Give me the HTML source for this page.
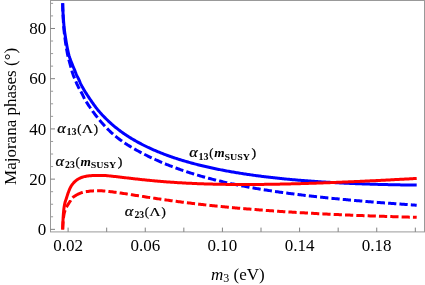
<!DOCTYPE html>
<html><head><meta charset="utf-8"><title>Majorana phases</title>
<style>
html,body{margin:0;padding:0;background:#fff;}
body{width:425px;height:285px;overflow:hidden;}
svg{display:block;will-change:transform;mix-blend-mode:multiply;font-family:"Liberation Serif",serif;}
.ax text{font-size:17px;fill:#000;}
</style></head><body>
<svg width="425" height="285" viewBox="0 0 425 285">
<rect x="0" y="0" width="425" height="285" fill="#fff"/>
<g fill="none" stroke-width="3" stroke-linejoin="round">
<path d="M62.70 3.30 L62.71 4.46 L62.72 5.61 L62.74 6.77 L62.77 7.93 L62.80 9.08 L62.83 10.24 L62.88 11.39 L62.92 12.55 L62.97 13.70 L63.03 14.85 L63.08 16.01 L63.14 17.16 L63.20 18.31 L63.27 19.47 L63.34 20.62 L63.40 21.77 L63.47 22.92 L63.54 24.08 L63.61 25.23 L63.69 26.38 L63.78 27.53 L63.88 28.68 L63.99 29.83 L64.11 30.98 L64.23 32.13 L64.36 33.28 L64.49 34.43 L64.63 35.57 L64.78 36.72 L64.92 37.87 L65.07 39.01 L65.22 40.16 L65.37 41.30 L65.53 42.44 L65.70 43.59 L65.87 44.73 L66.04 45.87 L66.23 47.02 L66.42 48.16 L66.61 49.30 L66.82 50.44 L67.03 51.57 L67.24 52.71 L67.46 53.84 L67.69 54.97 L67.94 56.09 L68.20 57.22 L68.48 58.34 L68.77 59.46 L69.07 60.57 L69.38 61.69 L69.69 62.80 L70.00 63.91 L70.31 65.03 L70.61 66.14 L70.91 67.26 L71.21 68.38 L71.52 69.49 L71.83 70.61 L72.15 71.72 L72.48 72.82 L72.83 73.92 L73.20 75.01 L73.62 76.09 L74.07 77.15 L74.52 78.22 L74.97 79.28 L75.40 80.35 L75.84 81.42 L76.29 82.49 L76.74 83.55 L77.22 84.60 L77.71 85.64 L78.22 86.68 L78.76 87.70 L79.31 88.72 L79.86 89.73 L80.42 90.74 L80.98 91.75 L81.54 92.77 L82.08 93.79 L82.61 94.82 L83.11 95.86 L83.59 96.91 L84.08 97.96 L84.59 98.99 L85.16 99.99 L85.76 100.98 L86.38 101.96 L87.01 102.93 L87.64 103.89 L88.28 104.85 L88.92 105.82 L89.57 106.77 L90.22 107.73 L90.88 108.68 L91.55 109.63 L92.22 110.58 L92.89 111.52 L93.58 112.45 L94.26 113.38 L94.96 114.31 L95.66 115.23 L96.36 116.14 L97.08 117.05 L97.79 117.95 L98.52 118.84 L99.25 119.73 L99.98 120.61 L100.73 121.49 L101.48 122.37 L102.25 123.24 L103.01 124.10 L103.79 124.96 L104.57 125.82 L105.36 126.67 L106.16 127.51 L106.97 128.34 L107.78 129.17 L108.59 129.99 L109.42 130.80 L110.25 131.60 L111.08 132.40 L111.93 133.18 L112.78 133.95 L113.65 134.71 L114.54 135.45 L115.43 136.18 L116.34 136.90 L117.25 137.62 L118.16 138.32 L119.08 139.02 L120.01 139.71 L120.94 140.39 L121.88 141.06 L122.83 141.73 L123.78 142.38 L124.74 143.03 L125.70 143.67 L126.67 144.30 L127.64 144.92 L128.62 145.53 L129.61 146.14 L130.59 146.74 L131.58 147.33 L132.58 147.92 L133.58 148.49 L134.58 149.07 L135.59 149.63 L136.60 150.19 L137.61 150.75 L138.63 151.30 L139.65 151.84 L140.67 152.38 L141.69 152.92 L142.72 153.45 L143.75 153.98 L144.78 154.50 L145.81 155.02 L146.84 155.53 L147.88 156.05 L148.91 156.55 L149.95 157.06 L151.00 157.55 L152.04 158.05 L153.09 158.54 L154.13 159.03 L155.18 159.51 L156.23 159.99 L157.29 160.46 L158.34 160.93 L159.40 161.39 L160.46 161.85 L161.52 162.31 L162.58 162.76 L163.65 163.21 L164.72 163.65 L165.78 164.09 L166.86 164.52 L167.93 164.95 L169.00 165.38 L170.08 165.80 L171.15 166.22 L172.23 166.63 L173.31 167.04 L174.39 167.45 L175.48 167.85 L176.56 168.25 L177.65 168.64 L178.73 169.03 L179.82 169.42 L180.91 169.80 L182.00 170.18 L183.10 170.55 L184.19 170.93 L185.28 171.29 L186.38 171.66 L187.48 172.02 L188.58 172.37 L189.68 172.73 L190.78 173.08 L191.88 173.42 L192.98 173.77 L194.09 174.11 L195.19 174.44 L196.30 174.77 L197.40 175.10 L198.51 175.43 L199.62 175.75 L200.73 176.07 L201.84 176.39 L202.95 176.70 L204.07 177.01 L205.18 177.32 L206.29 177.63 L207.41 177.93 L208.52 178.23 L209.64 178.52 L210.76 178.81 L211.88 179.10 L213.00 179.39 L214.12 179.67 L215.24 179.95 L216.36 180.23 L217.48 180.51 L218.60 180.78 L219.72 181.05 L220.85 181.32 L221.97 181.58 L223.10 181.84 L224.22 182.10 L225.35 182.36 L226.48 182.62 L227.60 182.87 L228.73 183.12 L229.86 183.36 L230.99 183.61 L232.12 183.85 L233.25 184.09 L234.38 184.33 L235.51 184.56 L236.64 184.79 L237.77 185.02 L238.90 185.25 L240.04 185.48 L241.17 185.70 L242.30 185.92 L243.44 186.14 L244.57 186.36 L245.71 186.57 L246.84 186.79 L247.98 187.00 L249.11 187.20 L250.25 187.41 L251.39 187.61 L252.53 187.82 L253.66 188.02 L254.80 188.22 L255.94 188.41 L257.08 188.61 L258.22 188.80 L259.36 188.99 L260.49 189.18 L261.63 189.37 L262.77 189.55 L263.91 189.74 L265.06 189.92 L266.20 190.10 L267.34 190.28 L268.48 190.45 L269.62 190.63 L270.76 190.80 L271.90 190.98 L273.05 191.15 L274.19 191.32 L275.33 191.48 L276.47 191.65 L277.62 191.82 L278.76 191.98 L279.91 192.14 L281.05 192.30 L282.19 192.46 L283.34 192.62 L284.48 192.78 L285.63 192.93 L286.77 193.09 L287.92 193.24 L289.06 193.39 L290.21 193.54 L291.35 193.69 L292.50 193.84 L293.64 193.99 L294.79 194.14 L295.93 194.28 L297.08 194.42 L298.23 194.57 L299.37 194.71 L300.52 194.85 L301.67 194.99 L302.81 195.13 L303.96 195.26 L305.11 195.40 L306.25 195.53 L307.40 195.67 L308.55 195.80 L309.70 195.93 L310.84 196.06 L311.99 196.19 L313.14 196.32 L314.29 196.45 L315.43 196.58 L316.58 196.71 L317.73 196.83 L318.88 196.96 L320.03 197.08 L321.18 197.20 L322.32 197.33 L323.47 197.45 L324.62 197.57 L325.77 197.69 L326.92 197.81 L328.07 197.93 L329.22 198.04 L330.37 198.16 L331.52 198.28 L332.66 198.39 L333.81 198.51 L334.96 198.62 L336.11 198.73 L337.26 198.84 L338.41 198.96 L339.56 199.07 L340.71 199.18 L341.86 199.29 L343.01 199.39 L344.16 199.50 L345.31 199.61 L346.46 199.72 L347.61 199.82 L348.76 199.93 L349.91 200.03 L351.06 200.14 L352.21 200.24 L353.36 200.34 L354.51 200.45 L355.66 200.55 L356.81 200.65 L357.97 200.75 L359.12 200.85 L360.27 200.95 L361.42 201.05 L362.57 201.15 L363.72 201.25 L364.87 201.34 L366.02 201.44 L367.17 201.54 L368.32 201.63 L369.47 201.73 L370.63 201.82 L371.78 201.92 L372.93 202.01 L374.08 202.10 L375.23 202.19 L376.38 202.29 L377.53 202.38 L378.69 202.47 L379.84 202.56 L380.99 202.65 L382.14 202.74 L383.29 202.83 L384.44 202.92 L385.59 203.01 L386.75 203.10 L387.90 203.18 L389.05 203.27 L390.20 203.36 L391.35 203.44 L392.50 203.53 L393.66 203.62 L394.81 203.70 L395.96 203.79 L397.11 203.87 L398.26 203.95 L399.42 204.04 L400.57 204.12 L401.72 204.20 L402.87 204.29 L404.02 204.37 L405.18 204.45 L406.33 204.53 L407.48 204.61 L408.63 204.69 L409.79 204.77 L410.94 204.85 L412.09 204.93 L413.24 205.01 L414.40 205.09 L415.55 205.17 L416.70 205.25" stroke="#0000ff" stroke-dasharray="8.25 3.125"/>
<path d="M62.70 3.30 L62.71 4.43 L62.74 5.56 L62.77 6.70 L62.80 7.83 L62.84 8.96 L62.89 10.09 L62.95 11.22 L63.01 12.35 L63.07 13.47 L63.14 14.60 L63.21 15.73 L63.28 16.86 L63.36 17.98 L63.44 19.11 L63.53 20.24 L63.61 21.36 L63.70 22.49 L63.79 23.61 L63.88 24.73 L63.97 25.86 L64.08 26.98 L64.20 28.10 L64.32 29.23 L64.46 30.35 L64.61 31.47 L64.76 32.59 L64.92 33.71 L65.09 34.83 L65.26 35.95 L65.43 37.07 L65.61 38.18 L65.79 39.30 L65.97 40.41 L66.15 41.53 L66.33 42.64 L66.52 43.76 L66.72 44.88 L66.92 45.99 L67.13 47.10 L67.35 48.22 L67.58 49.33 L67.81 50.43 L68.05 51.54 L68.31 52.63 L68.57 53.73 L68.85 54.81 L69.15 55.90 L69.48 56.97 L69.83 58.04 L70.21 59.11 L70.60 60.17 L71.01 61.23 L71.42 62.29 L71.84 63.34 L72.26 64.39 L72.68 65.44 L73.11 66.49 L73.55 67.53 L74.00 68.56 L74.44 69.60 L74.86 70.65 L75.27 71.71 L75.68 72.76 L76.09 73.81 L76.53 74.85 L77.01 75.87 L77.53 76.88 L78.05 77.88 L78.54 78.90 L79.00 79.93 L79.45 80.97 L79.91 82.01 L80.36 83.04 L80.84 84.07 L81.34 85.07 L81.86 86.07 L82.40 87.06 L82.95 88.04 L83.52 89.02 L84.09 89.99 L84.68 90.96 L85.27 91.92 L85.88 92.88 L86.49 93.84 L87.10 94.79 L87.73 95.74 L88.35 96.68 L88.98 97.62 L89.62 98.56 L90.25 99.49 L90.88 100.42 L91.52 101.35 L92.17 102.28 L92.81 103.21 L93.47 104.14 L94.13 105.06 L94.80 105.97 L95.48 106.88 L96.16 107.78 L96.86 108.68 L97.56 109.56 L98.27 110.43 L99.00 111.29 L99.73 112.14 L100.47 112.98 L101.23 113.82 L101.99 114.65 L102.77 115.47 L103.55 116.29 L104.34 117.10 L105.14 117.90 L105.95 118.70 L106.76 119.49 L107.58 120.28 L108.40 121.06 L109.23 121.83 L110.06 122.60 L110.90 123.36 L111.73 124.12 L112.58 124.86 L113.43 125.60 L114.30 126.33 L115.17 127.04 L116.06 127.75 L116.94 128.45 L117.84 129.14 L118.73 129.83 L119.63 130.51 L120.54 131.19 L121.45 131.85 L122.37 132.51 L123.30 133.16 L124.22 133.81 L125.16 134.44 L126.09 135.07 L127.04 135.69 L127.99 136.31 L128.94 136.92 L129.89 137.52 L130.85 138.11 L131.82 138.70 L132.79 139.28 L133.76 139.86 L134.74 140.42 L135.72 140.99 L136.70 141.54 L137.69 142.09 L138.68 142.63 L139.68 143.16 L140.68 143.69 L141.68 144.22 L142.68 144.73 L143.69 145.24 L144.70 145.75 L145.72 146.25 L146.73 146.74 L147.75 147.23 L148.77 147.71 L149.80 148.18 L150.83 148.66 L151.86 149.12 L152.89 149.58 L153.92 150.03 L154.96 150.48 L156.00 150.93 L157.04 151.36 L158.08 151.80 L159.13 152.22 L160.18 152.65 L161.23 153.06 L162.28 153.48 L163.33 153.89 L164.39 154.29 L165.45 154.69 L166.50 155.08 L167.57 155.47 L168.63 155.85 L169.69 156.23 L170.76 156.61 L171.83 156.98 L172.89 157.35 L173.96 157.71 L175.04 158.07 L176.11 158.42 L177.18 158.77 L178.26 159.11 L179.34 159.46 L180.41 159.79 L181.49 160.13 L182.57 160.45 L183.66 160.78 L184.74 161.10 L185.82 161.42 L186.91 161.73 L188.00 162.04 L189.08 162.35 L190.17 162.65 L191.26 162.95 L192.35 163.25 L193.44 163.54 L194.53 163.83 L195.63 164.12 L196.72 164.40 L197.82 164.68 L198.91 164.95 L200.01 165.23 L201.11 165.50 L202.20 165.76 L203.30 166.03 L204.40 166.29 L205.50 166.54 L206.60 166.80 L207.70 167.05 L208.81 167.30 L209.91 167.54 L211.01 167.79 L212.12 168.03 L213.22 168.26 L214.33 168.50 L215.43 168.73 L216.54 168.96 L217.64 169.18 L218.75 169.41 L219.86 169.63 L220.97 169.85 L222.08 170.06 L223.19 170.28 L224.30 170.49 L225.41 170.70 L226.52 170.90 L227.63 171.11 L228.74 171.31 L229.85 171.51 L230.97 171.71 L232.08 171.90 L233.19 172.09 L234.31 172.28 L235.42 172.47 L236.53 172.66 L237.65 172.84 L238.76 173.02 L239.88 173.20 L240.99 173.38 L242.11 173.56 L243.23 173.73 L244.34 173.90 L245.46 174.07 L246.58 174.24 L247.70 174.40 L248.81 174.57 L249.93 174.73 L251.05 174.89 L252.17 175.05 L253.29 175.20 L254.41 175.36 L255.53 175.51 L256.65 175.66 L257.77 175.81 L258.89 175.96 L260.01 176.10 L261.13 176.25 L262.25 176.39 L263.37 176.53 L264.49 176.67 L265.61 176.81 L266.73 176.94 L267.85 177.08 L268.98 177.21 L270.10 177.34 L271.22 177.47 L272.34 177.59 L273.47 177.72 L274.59 177.85 L275.71 177.97 L276.84 178.09 L277.96 178.21 L279.08 178.33 L280.21 178.45 L281.33 178.56 L282.45 178.68 L283.58 178.79 L284.70 178.90 L285.83 179.01 L286.95 179.12 L288.08 179.23 L289.20 179.33 L290.33 179.44 L291.45 179.54 L292.58 179.64 L293.70 179.75 L294.83 179.85 L295.95 179.94 L297.08 180.04 L298.20 180.14 L299.33 180.23 L300.45 180.33 L301.58 180.42 L302.71 180.51 L303.83 180.60 L304.96 180.69 L306.09 180.77 L307.21 180.86 L308.34 180.95 L309.47 181.03 L310.59 181.11 L311.72 181.20 L312.85 181.28 L313.97 181.36 L315.10 181.44 L316.23 181.51 L317.35 181.59 L318.48 181.67 L319.61 181.74 L320.74 181.81 L321.86 181.89 L322.99 181.96 L324.12 182.03 L325.25 182.10 L326.37 182.17 L327.50 182.23 L328.63 182.30 L329.76 182.36 L330.89 182.43 L332.01 182.49 L333.14 182.56 L334.27 182.62 L335.40 182.68 L336.53 182.74 L337.65 182.80 L338.78 182.86 L339.91 182.91 L341.04 182.97 L342.17 183.03 L343.30 183.08 L344.42 183.13 L345.55 183.19 L346.68 183.24 L347.81 183.29 L348.94 183.34 L350.07 183.39 L351.20 183.44 L352.33 183.49 L353.45 183.53 L354.58 183.58 L355.71 183.63 L356.84 183.67 L357.97 183.72 L359.10 183.76 L360.23 183.80 L361.36 183.84 L362.49 183.88 L363.61 183.92 L364.74 183.96 L365.87 184.00 L367.00 184.04 L368.13 184.08 L369.26 184.12 L370.39 184.15 L371.52 184.19 L372.65 184.22 L373.78 184.26 L374.91 184.29 L376.04 184.32 L377.16 184.35 L378.29 184.38 L379.42 184.41 L380.55 184.44 L381.68 184.47 L382.81 184.50 L383.94 184.53 L385.07 184.56 L386.20 184.58 L387.33 184.61 L388.46 184.64 L389.59 184.66 L390.72 184.68 L391.85 184.71 L392.98 184.73 L394.11 184.75 L395.24 184.78 L396.37 184.80 L397.50 184.82 L398.63 184.84 L399.75 184.86 L400.88 184.88 L402.01 184.89 L403.14 184.91 L404.27 184.93 L405.40 184.95 L406.53 184.96 L407.66 184.98 L408.79 184.99 L409.92 185.01 L411.05 185.02 L412.18 185.03 L413.31 185.05 L414.44 185.06 L415.57 185.07 L416.70 185.08" stroke="#0000ff"/>
<path d="M62.70 229.50 L62.70 229.18 L62.73 227.91 L62.77 226.63 L62.84 225.36 L62.92 224.09 L63.01 222.83 L63.11 221.56 L63.21 220.30 L63.33 219.03 L63.48 217.76 L63.66 216.50 L63.86 215.24 L64.09 213.99 L64.35 212.76 L64.70 211.54 L65.12 210.33 L65.60 209.14 L66.11 207.98 L66.66 206.85 L67.26 205.74 L67.92 204.65 L68.61 203.57 L69.31 202.50 L70.02 201.44 L70.72 200.37 L71.40 199.27 L72.12 198.22 L72.60 197.71" stroke="#ff0000" stroke-dasharray="8.25 3.125"/><path d="M72.60 197.71 L72.75 197.56 L73.21 197.15 L73.70 196.76 L74.22 196.39 L74.76 196.03 L75.31 195.68 L75.88 195.35 L76.45 195.04 L77.02 194.74 L77.59 194.45 L78.16 194.17 L78.73 193.91 L79.31 193.64 L79.90 193.39 L80.49 193.14 L81.09 192.91 L81.69 192.70 L82.30 192.50 L82.79 192.36" stroke="#ff0000"/><path d="M82.79 192.36 L82.91 192.33 L84.14 192.03 L85.38 191.78 L86.64 191.57 L87.90 191.40 L89.16 191.24 L90.43 191.09 L91.70 190.96 L92.96 190.88 L94.23 190.84 L95.50 190.81 L96.78 190.79 L98.05 190.78 L99.32 190.77 L100.59 190.78 L101.86 190.83 L103.13 190.92 L104.40 191.03 L105.66 191.16 L106.93 191.28 L108.19 191.40 L109.46 191.55 L110.72 191.70 L111.98 191.86 L113.24 192.02 L114.50 192.19 L115.76 192.36 L117.02 192.53 L118.28 192.71 L119.54 192.89 L120.79 193.08 L122.05 193.26 L123.31 193.45 L124.57 193.64 L125.82 193.84 L127.08 194.03 L128.34 194.23 L129.59 194.42 L130.85 194.62 L132.10 194.81 L133.36 195.01 L134.62 195.21 L135.87 195.41 L137.13 195.60 L138.38 195.80 L139.64 196.00 L140.89 196.19 L142.15 196.39 L143.41 196.59 L144.66 196.78 L145.92 196.98 L147.18 197.17 L148.43 197.36 L149.69 197.55 L150.95 197.74 L152.20 197.93 L153.46 198.12 L154.72 198.31 L155.98 198.50 L157.23 198.68 L158.49 198.87 L159.75 199.05 L161.01 199.24 L162.26 199.42 L163.52 199.60 L164.78 199.78 L166.04 199.96 L167.30 200.13 L168.56 200.31 L169.82 200.48 L171.08 200.66 L172.34 200.83 L173.60 201.00 L174.86 201.17 L176.12 201.34 L177.38 201.50 L178.64 201.67 L179.90 201.83 L181.16 202.00 L182.42 202.16 L183.68 202.32 L184.94 202.48 L186.20 202.64 L187.46 202.80 L188.73 202.95 L189.99 203.11 L191.25 203.26 L192.51 203.41 L193.77 203.56 L195.04 203.71 L196.30 203.86 L197.56 204.01 L198.83 204.16 L200.09 204.30 L201.35 204.44 L202.61 204.59 L203.88 204.73 L205.14 204.87 L206.40 205.01 L207.67 205.15 L208.93 205.28 L210.20 205.42 L211.46 205.55 L212.72 205.69 L213.99 205.82 L215.25 205.95 L216.52 206.08 L217.78 206.21 L219.05 206.34 L220.31 206.47 L221.58 206.59 L222.84 206.72 L224.11 206.84 L225.37 206.96 L226.64 207.09 L227.90 207.21 L229.17 207.33 L230.44 207.45 L231.70 207.56 L232.97 207.68 L234.23 207.80 L235.50 207.91 L236.77 208.03 L238.03 208.14 L239.30 208.25 L240.56 208.36 L241.83 208.47 L243.10 208.58 L244.36 208.69 L245.63 208.80 L246.90 208.90 L248.16 209.01 L249.43 209.11 L250.70 209.22 L251.97 209.32 L253.23 209.42 L254.50 209.52 L255.77 209.62 L257.03 209.72 L258.30 209.82 L259.57 209.92 L260.84 210.02 L262.11 210.11 L263.37 210.21 L264.64 210.30 L265.91 210.40 L267.18 210.49 L268.44 210.58 L269.71 210.67 L270.98 210.77 L272.25 210.86 L273.52 210.94 L274.78 211.03 L276.05 211.12 L277.32 211.21 L278.59 211.29 L279.86 211.38 L281.13 211.46 L282.39 211.55 L283.66 211.63 L284.93 211.71 L286.20 211.80 L287.47 211.88 L288.74 211.96 L290.01 212.04 L291.28 212.12 L292.54 212.19 L293.81 212.27 L295.08 212.35 L296.35 212.43 L297.62 212.50 L298.89 212.58 L300.16 212.65 L301.43 212.73 L302.70 212.80 L303.97 212.87 L305.24 212.94 L306.50 213.01 L307.77 213.09 L309.04 213.16 L310.31 213.23 L311.58 213.29 L312.85 213.36 L314.12 213.43 L315.39 213.50 L316.66 213.56 L317.93 213.63 L319.20 213.70 L320.47 213.76 L321.74 213.83 L323.01 213.89 L324.28 213.95 L325.55 214.01 L326.82 214.08 L328.09 214.14 L329.36 214.20 L330.63 214.26 L331.90 214.32 L333.17 214.38 L334.44 214.44 L335.71 214.50 L336.98 214.56 L338.25 214.61 L339.52 214.67 L340.79 214.73 L342.06 214.78 L343.33 214.84 L344.60 214.89 L345.87 214.95 L347.14 215.00 L348.41 215.05 L349.68 215.11 L350.95 215.16 L352.22 215.21 L353.49 215.26 L354.76 215.32 L356.03 215.37 L357.30 215.42 L358.57 215.47 L359.84 215.52 L361.11 215.56 L362.38 215.61 L363.65 215.66 L364.92 215.71 L366.19 215.76 L367.46 215.80 L368.73 215.85 L370.00 215.90 L371.27 215.94 L372.54 215.99 L373.81 216.03 L375.08 216.07 L376.35 216.12 L377.63 216.16 L378.90 216.20 L380.17 216.25 L381.44 216.29 L382.71 216.33 L383.98 216.37 L385.25 216.41 L386.52 216.46 L387.79 216.50 L389.06 216.54 L390.33 216.57 L391.60 216.61 L392.87 216.65 L394.14 216.69 L395.41 216.73 L396.68 216.77 L397.96 216.80 L399.23 216.84 L400.50 216.88 L401.77 216.91 L403.04 216.95 L404.31 216.99 L405.58 217.02 L406.85 217.06 L408.12 217.09 L409.39 217.13 L410.66 217.16 L411.93 217.19 L413.21 217.23 L414.48 217.26 L415.75 217.29 L416.70 217.32" stroke="#ff0000" stroke-dasharray="8.23 3.1" stroke-dashoffset="8.23"/>
<path d="M62.70 229.50 L62.72 228.51 L62.74 227.52 L62.77 226.54 L62.80 225.55 L62.83 224.56 L62.87 223.57 L62.91 222.59 L62.95 221.60 L62.99 220.61 L63.04 219.62 L63.09 218.64 L63.14 217.65 L63.20 216.66 L63.27 215.68 L63.34 214.69 L63.41 213.70 L63.49 212.72 L63.58 211.73 L63.67 210.75 L63.78 209.77 L63.90 208.79 L64.03 207.81 L64.18 206.83 L64.34 205.85 L64.52 204.88 L64.71 203.91 L64.91 202.95 L65.16 202.00 L65.45 201.05 L65.77 200.11 L66.10 199.18 L66.42 198.24 L66.72 197.30 L67.02 196.36 L67.32 195.41 L67.62 194.47 L67.93 193.53 L68.26 192.60 L68.61 191.68 L68.96 190.75 L69.33 189.83 L69.72 188.91 L70.13 188.02 L70.58 187.15 L71.06 186.29 L71.60 185.46 L72.18 184.65 L72.78 183.86 L73.42 183.11 L74.09 182.38 L74.79 181.68 L75.53 181.01 L76.28 180.39 L77.08 179.80 L77.91 179.25 L78.76 178.75 L79.63 178.28 L80.53 177.86 L81.45 177.51 L82.38 177.20 L83.33 176.92 L84.29 176.66 L85.26 176.43 L86.23 176.25 L87.20 176.09 L88.18 175.95 L89.16 175.82 L90.15 175.71 L91.13 175.63 L92.12 175.57 L93.10 175.52 L94.09 175.47 L95.08 175.43 L96.07 175.41 L97.06 175.39 L98.04 175.39 L99.03 175.40 L100.02 175.42 L101.01 175.44 L102.00 175.46 L102.99 175.49 L103.97 175.52 L104.96 175.55 L105.94 175.61 L106.93 175.68 L107.91 175.78 L108.90 175.88 L109.88 175.98 L110.86 176.09 L111.85 176.19 L112.83 176.29 L113.81 176.39 L114.80 176.50 L115.78 176.61 L116.76 176.72 L117.74 176.83 L118.72 176.95 L119.71 177.06 L120.69 177.17 L121.67 177.29 L122.65 177.41 L123.63 177.52 L124.61 177.64 L125.59 177.75 L126.57 177.87 L127.56 177.98 L128.54 178.10 L129.52 178.21 L130.50 178.33 L131.48 178.44 L132.46 178.55 L133.45 178.67 L134.43 178.78 L135.41 178.89 L136.39 179.00 L137.37 179.11 L138.36 179.22 L139.34 179.33 L140.32 179.43 L141.30 179.54 L142.29 179.64 L143.27 179.75 L144.25 179.85 L145.23 179.95 L146.22 180.05 L147.20 180.15 L148.18 180.25 L149.17 180.35 L150.15 180.44 L151.13 180.54 L152.12 180.63 L153.10 180.72 L154.09 180.81 L155.07 180.90 L156.05 180.99 L157.04 181.08 L158.02 181.16 L159.01 181.25 L159.99 181.33 L160.98 181.41 L161.96 181.50 L162.95 181.58 L163.93 181.65 L164.92 181.73 L165.90 181.81 L166.89 181.88 L167.87 181.96 L168.86 182.03 L169.84 182.10 L170.83 182.17 L171.81 182.24 L172.80 182.31 L173.79 182.37 L174.77 182.44 L175.76 182.50 L176.74 182.57 L177.73 182.63 L178.72 182.69 L179.70 182.75 L180.69 182.81 L181.68 182.86 L182.66 182.92 L183.65 182.97 L184.64 183.03 L185.62 183.08 L186.61 183.13 L187.60 183.18 L188.58 183.23 L189.57 183.28 L190.56 183.33 L191.54 183.37 L192.53 183.42 L193.52 183.46 L194.51 183.51 L195.49 183.55 L196.48 183.59 L197.47 183.63 L198.46 183.67 L199.44 183.70 L200.43 183.74 L201.42 183.78 L202.41 183.81 L203.39 183.85 L204.38 183.88 L205.37 183.91 L206.36 183.94 L207.34 183.97 L208.33 184.00 L209.32 184.03 L210.31 184.06 L211.29 184.08 L212.28 184.11 L213.27 184.13 L214.26 184.16 L215.25 184.18 L216.23 184.20 L217.22 184.22 L218.21 184.24 L219.20 184.26 L220.19 184.28 L221.17 184.30 L222.16 184.32 L223.15 184.33 L224.14 184.35 L225.13 184.36 L226.11 184.38 L227.10 184.39 L228.09 184.40 L229.08 184.41 L230.07 184.42 L231.05 184.43 L232.04 184.44 L233.03 184.45 L234.02 184.46 L235.01 184.47 L236.00 184.47 L236.98 184.48 L237.97 184.48 L238.96 184.48 L239.95 184.49 L240.94 184.49 L241.92 184.49 L242.91 184.49 L243.90 184.49 L244.89 184.49 L245.88 184.49 L246.86 184.49 L247.85 184.49 L248.84 184.49 L249.83 184.48 L250.82 184.48 L251.81 184.48 L252.79 184.47 L253.78 184.47 L254.77 184.46 L255.76 184.45 L256.75 184.45 L257.73 184.44 L258.72 184.43 L259.71 184.42 L260.70 184.41 L261.69 184.40 L262.67 184.39 L263.66 184.38 L264.65 184.37 L265.64 184.35 L266.63 184.34 L267.62 184.33 L268.60 184.31 L269.59 184.30 L270.58 184.28 L271.57 184.27 L272.56 184.25 L273.54 184.24 L274.53 184.22 L275.52 184.20 L276.51 184.18 L277.50 184.17 L278.48 184.15 L279.47 184.13 L280.46 184.11 L281.45 184.09 L282.44 184.07 L283.42 184.05 L284.41 184.02 L285.40 184.00 L286.39 183.98 L287.37 183.96 L288.36 183.93 L289.35 183.91 L290.34 183.89 L291.33 183.86 L292.31 183.84 L293.30 183.81 L294.29 183.79 L295.28 183.76 L296.27 183.73 L297.25 183.71 L298.24 183.68 L299.23 183.65 L300.22 183.63 L301.20 183.60 L302.19 183.57 L303.18 183.54 L304.17 183.51 L305.16 183.48 L306.14 183.45 L307.13 183.42 L308.12 183.39 L309.11 183.36 L310.09 183.33 L311.08 183.30 L312.07 183.26 L313.06 183.23 L314.04 183.20 L315.03 183.16 L316.02 183.13 L317.01 183.10 L317.99 183.06 L318.98 183.03 L319.97 182.99 L320.96 182.96 L321.94 182.92 L322.93 182.89 L323.92 182.85 L324.91 182.82 L325.89 182.78 L326.88 182.74 L327.87 182.71 L328.86 182.67 L329.84 182.63 L330.83 182.59 L331.82 182.55 L332.81 182.52 L333.79 182.48 L334.78 182.44 L335.77 182.40 L336.76 182.36 L337.74 182.32 L338.73 182.28 L339.72 182.24 L340.71 182.20 L341.69 182.16 L342.68 182.12 L343.67 182.07 L344.65 182.03 L345.64 181.99 L346.63 181.95 L347.62 181.91 L348.60 181.86 L349.59 181.82 L350.58 181.78 L351.57 181.73 L352.55 181.69 L353.54 181.65 L354.53 181.60 L355.51 181.56 L356.50 181.51 L357.49 181.47 L358.48 181.42 L359.46 181.38 L360.45 181.33 L361.44 181.29 L362.42 181.24 L363.41 181.20 L364.40 181.15 L365.39 181.10 L366.37 181.06 L367.36 181.01 L368.35 180.96 L369.33 180.92 L370.32 180.87 L371.31 180.82 L372.29 180.77 L373.28 180.73 L374.27 180.68 L375.26 180.63 L376.24 180.58 L377.23 180.53 L378.22 180.48 L379.20 180.43 L380.19 180.38 L381.18 180.33 L382.16 180.28 L383.15 180.23 L384.14 180.18 L385.12 180.13 L386.11 180.08 L387.10 180.03 L388.09 179.98 L389.07 179.93 L390.06 179.88 L391.05 179.83 L392.03 179.78 L393.02 179.73 L394.01 179.67 L394.99 179.62 L395.98 179.57 L396.97 179.52 L397.95 179.46 L398.94 179.41 L399.93 179.36 L400.91 179.31 L401.90 179.25 L402.89 179.20 L403.87 179.15 L404.86 179.09 L405.85 179.04 L406.83 178.99 L407.82 178.93 L408.81 178.88 L409.79 178.82 L410.78 178.77 L411.77 178.71 L412.75 178.66 L413.74 178.60 L414.73 178.55 L415.71 178.49 L416.70 178.44" stroke="#ff0000"/>
</g>
<rect x="50.5" y="0.5" width="374.0" height="231.4" fill="none" stroke="#999" stroke-width="1"/>
<g stroke="#808080" stroke-width="1">
<line x1="68.10" y1="231.9" x2="68.10" y2="227.60"/>
<line x1="106.68" y1="231.9" x2="106.68" y2="227.60"/>
<line x1="145.26" y1="231.9" x2="145.26" y2="227.60"/>
<line x1="183.84" y1="231.9" x2="183.84" y2="227.60"/>
<line x1="222.42" y1="231.9" x2="222.42" y2="227.60"/>
<line x1="261.00" y1="231.9" x2="261.00" y2="227.60"/>
<line x1="299.58" y1="231.9" x2="299.58" y2="227.60"/>
<line x1="338.16" y1="231.9" x2="338.16" y2="227.60"/>
<line x1="376.74" y1="231.9" x2="376.74" y2="227.60"/>
<line x1="415.32" y1="231.9" x2="415.32" y2="227.60"/>
<line x1="50.5" y1="229.35" x2="55.00" y2="229.35"/>
<line x1="50.5" y1="216.79" x2="53.10" y2="216.79" stroke="#9a9a9a"/>
<line x1="50.5" y1="204.24" x2="53.10" y2="204.24" stroke="#9a9a9a"/>
<line x1="50.5" y1="191.69" x2="53.10" y2="191.69" stroke="#9a9a9a"/>
<line x1="50.5" y1="179.13" x2="55.00" y2="179.13"/>
<line x1="50.5" y1="166.57" x2="53.10" y2="166.57" stroke="#9a9a9a"/>
<line x1="50.5" y1="154.02" x2="53.10" y2="154.02" stroke="#9a9a9a"/>
<line x1="50.5" y1="141.46" x2="53.10" y2="141.46" stroke="#9a9a9a"/>
<line x1="50.5" y1="128.91" x2="55.00" y2="128.91"/>
<line x1="50.5" y1="116.35" x2="53.10" y2="116.35" stroke="#9a9a9a"/>
<line x1="50.5" y1="103.80" x2="53.10" y2="103.80" stroke="#9a9a9a"/>
<line x1="50.5" y1="91.24" x2="53.10" y2="91.24" stroke="#9a9a9a"/>
<line x1="50.5" y1="78.69" x2="55.00" y2="78.69"/>
<line x1="50.5" y1="66.13" x2="53.10" y2="66.13" stroke="#9a9a9a"/>
<line x1="50.5" y1="53.58" x2="53.10" y2="53.58" stroke="#9a9a9a"/>
<line x1="50.5" y1="41.02" x2="53.10" y2="41.02" stroke="#9a9a9a"/>
<line x1="50.5" y1="28.47" x2="55.00" y2="28.47"/>
<line x1="50.5" y1="15.91" x2="53.10" y2="15.91" stroke="#9a9a9a"/>
<line x1="50.5" y1="3.36" x2="53.10" y2="3.36" stroke="#9a9a9a"/>
</g>
<g class="ax">
<text x="68.10" y="251.3" text-anchor="middle">0.02</text>
<text x="145.26" y="251.3" text-anchor="middle">0.06</text>
<text x="222.42" y="251.3" text-anchor="middle">0.10</text>
<text x="299.58" y="251.3" text-anchor="middle">0.14</text>
<text x="376.74" y="251.3" text-anchor="middle">0.18</text>
<text x="46.3" y="235.05" text-anchor="end">0</text>
<text x="46.3" y="184.83" text-anchor="end">20</text>
<text x="46.3" y="134.61" text-anchor="end">40</text>
<text x="46.3" y="84.39" text-anchor="end">60</text>
<text x="46.3" y="34.17" text-anchor="end">80</text>
<text x="211" y="280.2"><tspan font-style="italic">m</tspan><tspan font-size="12px" dy="1.6">3</tspan><tspan dy="-1.6"> (eV)</tspan></text>
<text transform="translate(15.7 184.9) rotate(-90)" textLength="137" lengthAdjust="spacingAndGlyphs">Majorana phases (°)</text>
</g>
<g fill="#000">
<text transform="translate(57.21 132.70) scale(1.085 1)" font-size="15px" font-weight="normal" font-style="italic" stroke="#000" stroke-width="0.25">α</text>
<text transform="translate(66.41 135.30) scale(1.060 1)" font-size="9.5px" font-weight="bold" font-style="normal">13</text>
<text transform="translate(77.17 132.70) scale(0.955 1)" font-size="13px" font-weight="normal" font-style="normal" stroke="#000" stroke-width="0.25">(</text>
<text transform="translate(81.67 132.70) scale(1.318 1)" font-size="12px" font-weight="normal" font-style="normal" stroke="#000" stroke-width="0.12">Λ</text>
<text transform="translate(93.81 132.70) scale(0.985 1)" font-size="13px" font-weight="normal" font-style="normal" stroke="#000" stroke-width="0.25">)</text>
<text transform="translate(55.51 165.60) scale(1.085 1)" font-size="15px" font-weight="normal" font-style="italic" stroke="#000" stroke-width="0.25">α</text>
<text transform="translate(65.09 168.20) scale(1.017 1)" font-size="9.5px" font-weight="bold" font-style="normal">23</text>
<text transform="translate(75.47 165.60) scale(0.955 1)" font-size="13px" font-weight="normal" font-style="normal" stroke="#000" stroke-width="0.25">(</text>
<text transform="translate(80.54 165.60) scale(1.027 1)" font-size="13px" font-weight="bold" font-style="italic">m</text>
<text transform="translate(90.75 167.90) scale(1.110 1)" font-size="9px" font-weight="bold" font-style="normal">SUSY</text>
<text transform="translate(117.87 165.60) scale(1.075 1)" font-size="13px" font-weight="normal" font-style="normal" stroke="#000" stroke-width="0.25">)</text>
<text transform="translate(189.21 157.40) scale(1.085 1)" font-size="15px" font-weight="normal" font-style="italic" stroke="#000" stroke-width="0.25">α</text>
<text transform="translate(198.41 160.00) scale(1.060 1)" font-size="9.5px" font-weight="bold" font-style="normal">13</text>
<text transform="translate(209.17 157.40) scale(0.955 1)" font-size="13px" font-weight="normal" font-style="normal" stroke="#000" stroke-width="0.25">(</text>
<text transform="translate(214.24 157.40) scale(1.027 1)" font-size="13px" font-weight="bold" font-style="italic">m</text>
<text transform="translate(224.45 159.70) scale(1.110 1)" font-size="9px" font-weight="bold" font-style="normal">SUSY</text>
<text transform="translate(251.57 157.40) scale(1.075 1)" font-size="13px" font-weight="normal" font-style="normal" stroke="#000" stroke-width="0.25">)</text>
<text transform="translate(124.81 215.80) scale(1.085 1)" font-size="15px" font-weight="normal" font-style="italic" stroke="#000" stroke-width="0.25">α</text>
<text transform="translate(134.39 218.40) scale(1.017 1)" font-size="9.5px" font-weight="bold" font-style="normal">23</text>
<text transform="translate(144.77 215.80) scale(0.955 1)" font-size="13px" font-weight="normal" font-style="normal" stroke="#000" stroke-width="0.25">(</text>
<text transform="translate(149.27 215.80) scale(1.318 1)" font-size="12px" font-weight="normal" font-style="normal" stroke="#000" stroke-width="0.12">Λ</text>
<text transform="translate(161.41 215.80) scale(0.985 1)" font-size="13px" font-weight="normal" font-style="normal" stroke="#000" stroke-width="0.25">)</text>
</g>
</svg>
</body></html>
